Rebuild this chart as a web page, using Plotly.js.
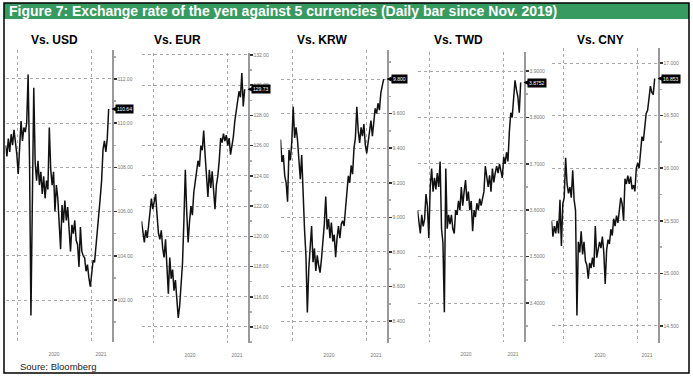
<!DOCTYPE html>
<html><head><meta charset="utf-8">
<script src="https://cdn.plot.ly/plotly-3.0.1.min.js"></script>
<style>html,body{margin:0;padding:0;background:#fff}#chart{width:693px;height:378px}</style>
</head><body><div id="chart"></div>
<script>
// ---------- DATA ----------
const figureTitle = 'Figure 7: Exchange rate of the yen against 5 currencies (Daily bar since Nov. 2019)';
const sourceText = 'Soure: Bloomberg';
const panelTitles = ['Vs. USD', 'Vs. EUR', 'Vs. KRW', 'Vs. TWD', 'Vs. CNY'];
const startDate = '2019-11-04';          // first weekly reading
const yearTickVals = ['2020-07-01', '2021-02-19'];
const yearTickText = ['2020', '2021'];
const yearBoundaries = ['2020-01-01', '2021-01-01'];

const usd = [109.0,108.5,109.3,108.7,109.5,109.0,109.7,109.2,108.6,107.7,109.3,110.1,109.2,109.8,109.6,110.0,112.2,108.3,101.3,107.0,111.6,108.2,107.4,108.3,107.2,107.8,106.8,107.6,106.6,107.4,107.0,109.8,107.9,107.2,107.8,106.0,107.2,106.6,105.6,104.3,106.3,105.5,106.5,105.6,106.2,105.1,104.2,105.4,105.0,105.6,104.7,104.5,103.5,105.3,104.2,104.0,103.9,103.3,103.6,103.0,102.6,103.2,103.8,103.7,104.4,105.0,105.6,106.6,107.4,108.8,109.2,108.7,109.3,110.64];
const eur = [121.0,120.3,119.6,120.4,119.9,120.7,121.6,122.5,121.8,122.2,122.8,121.4,120.2,119.8,120.4,119.2,118.6,119.8,117.6,116.2,118.6,117.2,117.8,116.4,117.1,115.8,114.6,115.4,116.6,118.2,121.0,124.4,121.6,119.6,121.0,122.0,121.4,122.9,123.6,124.2,125.0,124.6,126.0,125.7,127.0,125.4,124.0,122.6,124.4,123.2,124.3,122.9,121.8,123.4,124.0,125.0,126.5,126.2,126.8,126.3,126.7,126.0,126.5,125.4,125.9,126.6,127.6,128.2,128.9,129.6,129.2,130.8,128.6,129.73];
const krw = [9.45,9.32,9.36,9.24,9.20,9.09,9.39,9.33,9.44,9.64,9.46,9.52,9.45,9.33,9.22,9.36,9.10,8.93,8.78,8.45,8.70,8.80,8.95,8.74,8.82,8.69,8.78,8.72,8.68,8.76,8.86,8.96,9.12,8.93,8.99,8.88,8.97,8.86,8.90,8.77,8.88,8.95,8.88,8.96,8.98,8.95,9.05,9.14,9.24,9.20,9.30,9.25,9.40,9.46,9.64,9.50,9.43,9.52,9.47,9.54,9.42,9.37,9.43,9.48,9.56,9.47,9.55,9.63,9.60,9.66,9.62,9.72,9.76,9.800];
const twd = [3.600,3.580,3.550,3.590,3.565,3.580,3.635,3.610,3.540,3.650,3.690,3.640,3.670,3.645,3.680,3.650,3.705,3.560,3.530,3.380,3.690,3.560,3.590,3.570,3.590,3.560,3.550,3.600,3.590,3.620,3.600,3.650,3.610,3.640,3.665,3.620,3.640,3.600,3.620,3.555,3.600,3.585,3.615,3.600,3.625,3.610,3.630,3.640,3.695,3.670,3.650,3.675,3.640,3.690,3.660,3.680,3.695,3.680,3.700,3.685,3.670,3.715,3.700,3.725,3.705,3.770,3.810,3.800,3.840,3.880,3.860,3.845,3.810,3.8752];
const cny = [15.50,15.35,15.45,15.38,15.50,15.38,15.70,15.26,15.66,15.72,16.10,15.85,15.76,15.82,15.72,15.98,15.70,15.60,14.60,15.30,15.20,15.40,15.18,15.30,15.12,15.08,14.95,15.10,15.05,15.15,15.06,15.45,15.15,15.25,15.30,15.24,15.35,15.20,14.90,15.22,15.32,15.28,15.42,15.36,15.52,15.45,15.55,15.48,15.62,15.72,15.66,15.50,15.90,15.85,15.93,15.85,15.92,15.80,15.84,15.78,16.00,16.05,16.00,16.12,16.30,16.26,16.40,16.52,16.55,16.68,16.78,16.72,16.70,16.853];
const lastLabels = ['110.64', '129.73', '9.800', '3.8752', '16.853'];

// ---------- LAYOUT / STYLE ----------
const series = [usd, eur, krw, twd, cny];
const W = 693, H = 378;
const PW = 106;
const panels = [
  {L: 5.5,   top: 50, bot: 342, range: [100.10, 113.31], dtick: 2,   minor: 1,    fmt: '.2f', cx: 54},
  {L: 141.5, top: 53, bot: 343, range: [112.94, 132.13], dtick: 2,   minor: 1,    fmt: '.2f', cx: 177},
  {L: 280.5, top: 50, bot: 343, range: [8.273, 9.968],   dtick: 0.2, minor: 0.1,  fmt: '.3f', cx: 322},
  {L: 417.5, top: 52, bot: 342, range: [3.316, 3.941],   dtick: 0.1, minor: 0.05, fmt: '.4f', cx: 458},
  {L: 551.5, top: 48, bot: 343, range: [14.338, 17.143], dtick: 0.5, minor: 0.25, fmt: '.3f', cx: 600}
];
const FONT = 'Liberation Sans, Arial, sans-serif';
const NARROW = 'Liberation Sans Narrow, Arial Narrow, Liberation Sans, Arial, sans-serif';

const traces = [];
const layout = {
  width: W, height: H,
  margin: {l: 0, r: 0, t: 0, b: 0},
  paper_bgcolor: '#fff', plot_bgcolor: 'rgba(0,0,0,0)',
  showlegend: false,
  font: {family: FONT},
  annotations: [],
  shapes: [
    {type: 'rect', xref: 'paper', yref: 'paper', x0: 4/W, x1: 689/W, y0: 1-19/H, y1: 1-3/H,
     fillcolor: '#379a61', line: {width: 0}},
    {type: 'rect', xref: 'paper', yref: 'paper', x0: 4/W, x1: 689/W, y0: 1-373/H, y1: 1-3/H,
     fillcolor: 'rgba(0,0,0,0)', line: {color: '#000', width: 1.5}}
  ]
};

panels.forEach((p, i) => {
  const n = i === 0 ? '' : String(i + 1);
  const data = series[i];
  traces.push({
    type: 'scatter', mode: 'lines',
    x0: startDate, dx: 7 * 86400000, y: data,
    xaxis: 'x' + n, yaxis: 'y' + n,
    line: {color: '#111', width: 1.5},
    hoverinfo: 'skip'
  });
  layout['xaxis' + n] = {
    type: 'date', domain: [p.L / W, (p.L + PW) / W], range: ['2019-11-04', '2021-04-12'],
    anchor: 'y' + n,
    tickmode: 'array', tickvals: yearTickVals, ticktext: yearTickText,
    ticks: 'outside', ticklen: 7, tickcolor: 'rgba(0,0,0,0)',
    tickfont: {size: 5, color: '#777'},
    showgrid: false, showline: false, zeroline: false,
    minor: {tickmode: 'array', tickvals: yearBoundaries, showgrid: true, gridcolor: '#a8a8a8',
            griddash: 'dot', gridwidth: 1, ticks: ''},
    fixedrange: true
  };
  layout['yaxis' + n] = {
    domain: [1 - p.bot / H, 1 - p.top / H], range: p.range,
    anchor: 'x' + n, side: 'right',
    showline: true, linecolor: '#999', linewidth: 2,
    ticks: 'outside', ticklen: 3, tickwidth: 1.5, tickcolor: '#333',
    tickfont: {size: 5, color: '#777'},
    tick0: 0, dtick: p.dtick, tickformat: p.fmt,
    showgrid: true, gridcolor: '#a8a8a8', griddash: 'dot', gridwidth: 1,
    zeroline: false,
    minor: {dtick: p.minor, ticks: 'outside', ticklen: 2, tickcolor: '#aaa', showgrid: false},
    fixedrange: true
  };
  layout.annotations.push({
    xref: 'paper', yref: 'paper', x: p.cx / W, y: 1 - 40 / H,
    text: '<b>' + panelTitles[i] + '</b>', showarrow: false,
    xanchor: 'center', yanchor: 'middle',
    font: {family: FONT, size: 12, color: '#000'}
  });
  layout.annotations.push({
    xref: 'x' + n + ' domain', yref: 'y' + n, x: 1, y: data[data.length - 1],
    text: lastLabels[i], showarrow: true, ax: 13, ay: 0,
    arrowhead: 2, arrowsize: 0.7, arrowwidth: 1.5, arrowcolor: '#000', standoff: 0,
    bgcolor: '#000', borderpad: 1,
    font: {family: FONT, size: 5, color: '#fff'}
  });
});

layout.annotations.push({
  xref: 'paper', yref: 'paper', x: 7 / W, y: 1 - 11 / H,
  text: '<b>' + figureTitle + '</b>', showarrow: false,
  xanchor: 'left', yanchor: 'middle',
  font: {family: NARROW, size: 14, color: '#fff'}
});
layout.annotations.push({
  xref: 'paper', yref: 'paper', x: 18 / W, y: 1 - 366 / H,
  text: sourceText, showarrow: false,
  xanchor: 'left', yanchor: 'middle',
  font: {family: NARROW, size: 9.5, color: '#222'}
});

Plotly.newPlot('chart', traces, layout, {staticPlot: true, displayModeBar: false});
</script>
</body></html>
